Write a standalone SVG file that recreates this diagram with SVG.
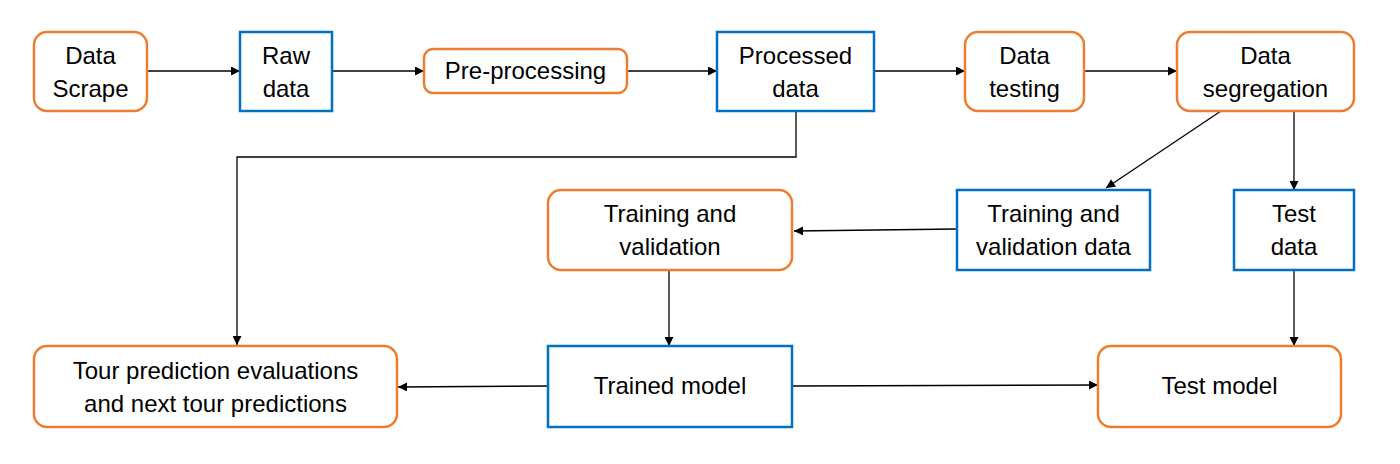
<svg xmlns="http://www.w3.org/2000/svg" width="1400" height="464" viewBox="0 0 1400 464">
<defs>
<marker id="ah" viewBox="0 0 10 10" refX="10" refY="5" markerWidth="10" markerHeight="9" markerUnits="userSpaceOnUse" orient="auto">
<path d="M0,0 L10,5 L0,10 z" fill="#000"/>
</marker>
</defs>
<style>
.o{fill:#fff;stroke:#ED7D31;stroke-width:2.5}
.b{fill:#fff;stroke:#0070C0;stroke-width:2.5}
text{font-family:"Liberation Sans",Arial,sans-serif;font-size:24px;fill:#000;text-anchor:middle}
.c{fill:none;stroke:#000;stroke-width:1.3;marker-end:url(#ah)}
</style>
<rect width="1400" height="464" fill="#fff"/>
<g id="connectors">
<path class="c" d="M147,71 L240,71"/>
<path class="c" d="M332,71 L424,71"/>
<path class="c" d="M627,71 L717,71"/>
<path class="c" d="M874,71 L965,71"/>
<path class="c" d="M1084,71 L1177,71"/>
<path class="c" d="M1221,111 L1106,188"/>
<path class="c" d="M1294,111 L1294,190"/>
<path class="c" d="M957,229 L794,231"/>
<path class="c" d="M669,270 L669,346"/>
<path class="c" d="M548,386 L398,387"/>
<path class="c" d="M792,386 L1098,385"/>
<path class="c" d="M1294,270 L1294,346"/>
<path class="c" d="M796,111 L796,157 L237,157 L237,345"/>
</g>
<g id="data-scrape"><rect class="o" x="34" y="32" width="113" height="79" rx="13"/><text x="90.5" y="64">Data</text><text x="90.5" y="97">Scrape</text></g>
<g id="raw-data"><rect class="b" x="240" y="32" width="92" height="79"/><text x="286" y="64">Raw</text><text x="286" y="97">data</text></g>
<g id="pre-processing"><rect class="o" x="424" y="49" width="203" height="44" rx="9"/><text x="525.5" y="79">Pre-processing</text></g>
<g id="processed-data"><rect class="b" x="717" y="32" width="157" height="79"/><text x="795.5" y="64">Processed</text><text x="795.5" y="97">data</text></g>
<g id="data-testing"><rect class="o" x="965" y="32" width="119" height="79" rx="13"/><text x="1024.5" y="64">Data</text><text x="1024.5" y="97">testing</text></g>
<g id="data-segregation"><rect class="o" x="1177" y="32" width="177" height="79" rx="13"/><text x="1265.5" y="64">Data</text><text x="1265.5" y="97">segregation</text></g>
<g id="training-validation"><rect class="o" x="548" y="190" width="244" height="80" rx="13"/><text x="670" y="222">Training and</text><text x="670" y="255">validation</text></g>
<g id="training-validation-data"><rect class="b" x="957" y="190" width="193" height="80"/><text x="1053.5" y="222">Training and</text><text x="1053.5" y="255">validation data</text></g>
<g id="test-data"><rect class="b" x="1234" y="190" width="120" height="80"/><text x="1294" y="222">Test</text><text x="1294" y="255">data</text></g>
<g id="tour-prediction"><rect class="o" x="34" y="346" width="363" height="81" rx="13"/><text x="215.5" y="379">Tour prediction evaluations</text><text x="215.5" y="412">and next tour predictions</text></g>
<g id="trained-model"><rect class="b" x="548" y="346" width="244" height="81"/><text x="670" y="394">Trained model</text></g>
<g id="test-model"><rect class="o" x="1098" y="346" width="243" height="81" rx="13"/><text x="1219.5" y="394">Test model</text></g>
</svg>
